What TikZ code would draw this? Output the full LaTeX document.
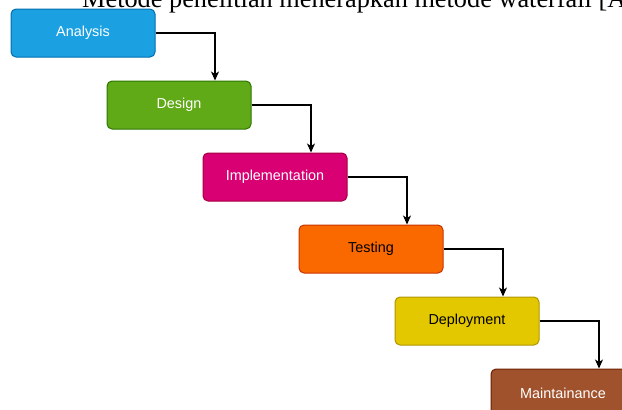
\documentclass[tikz,border=0pt]{standalone}
\usepackage{fontspec}
\setmainfont{Liberation Serif}
\newfontfamily\phasefont{Liberation Sans}
\usetikzlibrary{arrows.meta}

\definecolor{analysisFill}{HTML}{1BA1E2}
\definecolor{analysisLine}{HTML}{006EAF}
\definecolor{designFill}{HTML}{60A917}
\definecolor{designLine}{HTML}{2D7600}
\definecolor{implFill}{HTML}{D80073}
\definecolor{implLine}{HTML}{A50040}
\definecolor{testFill}{HTML}{FA6800}
\definecolor{testLine}{HTML}{C73500}
\definecolor{deployFill}{HTML}{E3C800}
\definecolor{deployLine}{HTML}{B09500}
\definecolor{maintFill}{HTML}{A0522D}
\definecolor{maintLine}{HTML}{6D1F00}

\tikzset{
  phase/.style={draw, line width=1pt, rounded corners=5pt,
    minimum width=144pt, minimum height=48pt, inner sep=0pt,
    font=\phasefont\fontsize{14.4}{17}\selectfont},
  flow/.style={-{Stealth[length=9pt,width=8pt,inset=2.5pt]}, line width=1.2pt}
}

\begin{document}
\begin{tikzpicture}[x=1pt,y=-1pt]
\clip (0,0) rectangle (622,410);

\node[anchor=base west, inner sep=0pt, font=\fontsize{26.3}{30}\selectfont] (intro) at (82,7.5) {Metode penelitian menerapkan metode waterfall [A}; % cut-off line

\node[phase, fill=analysisFill, draw=analysisLine, text=white] (analysis) at (83,33) {Analysis}; % phase 1
\node[phase, fill=designFill, draw=designLine, text=white] (design) at (179,105) {Design}; % phase 2
\node[phase, fill=implFill, draw=implLine, text=white] (impl) at (275,177) {Implementation}; % phase 3
\node[phase, fill=testFill, draw=testLine, text=black] (testing) at (371,249) {Testing}; % phase 4
\node[phase, fill=deployFill, draw=deployLine, text=black] (deploy) at (467,321) {Deployment}; % phase 5
\node[phase, fill=maintFill, draw=maintLine, text=white] (maint) at (563,393) {Maintainance}; % phase 6

\draw[flow] (analysis.east) -| ([xshift=36pt]design.north);
\draw[flow] (design.east) -| ([xshift=36pt]impl.north);
\draw[flow] (impl.east) -| ([xshift=36pt]testing.north);
\draw[flow] (testing.east) -| ([xshift=36pt]deploy.north);
\draw[flow] (deploy.east) -| ([xshift=36pt]maint.north);
\end{tikzpicture}
\end{document}
